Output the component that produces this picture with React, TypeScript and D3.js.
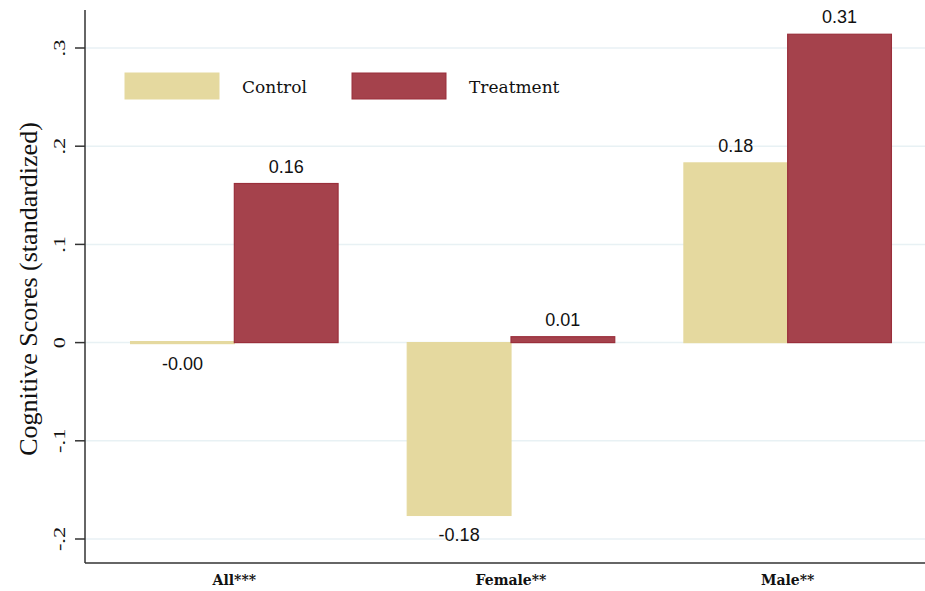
import React from "react";
import * as d3 from "d3";

const groups = ["All***", "Female**", "Male**"];
const seriesNames = ["Control", "Treatment"];
const controlValues = [-0.001, -0.176, 0.183];
const treatmentValues = [0.162, 0.006, 0.314];
const yTicks = [-0.2, -0.1, 0, 0.1, 0.2, 0.3];
const yTickLabels = ["-.2", "-.1", "0", ".1", ".2", ".3"];

const W = 925;
const H = 591;
const left = 85;
const right = 925;
const top = 10;
const bottom = 563;

const colors = { Control: "#E5D99F", Treatment: "#A5424C" };
const strokes = { Control: "#E5D99F", Treatment: "#9A2F3B" };

// keeps the sign of values that round to zero, e.g. -0.00
const fmt = (v: number) => (v < 0 ? "-" : "") + Math.abs(v).toFixed(2);

export default function App() {
  const y = d3.scaleLinear().domain([-0.2, 0.3]).range([539, 48]);
  const x0 = d3
    .scaleBand()
    .domain(groups)
    .range([96, 926])
    .paddingInner(0.25)
    .paddingOuter(0.125);
  const x1 = d3.scaleBand().domain(seriesNames).range([0, x0.bandwidth()]);
  const serif = "'Liberation Serif', 'DejaVu Serif', serif";
  const century = "'DejaVu Serif', serif";
  const sans = "'Liberation Sans', Arial, sans-serif";

  const series = [
    { name: "Control", values: controlValues },
    { name: "Treatment", values: treatmentValues },
  ];

  return (
    <svg width={W} height={H} style={{ position: "absolute", left: 0, top: 0, background: "#fff" }}>
      {/* grid */}
      {yTicks.map((t) => (
        <line key={t} x1={left} x2={right} y1={y(t)} y2={y(t)} stroke="#E8F1F4" strokeWidth={1.5} />
      ))}
      {/* bars */}
      {series.map((s) =>
        s.values.map((v, i) => {
          const g = groups[i];
          const bx = (x0(g) as number) + (x1(s.name) as number);
          const y0 = y(0);
          const yv = y(v);
          const h = Math.max(Math.abs(yv - y0), 2);
          const by = v >= 0 ? y0 - h : y0 - (Math.abs(yv - y0) < 2 ? 1 : 0);
          return (
            <rect
              key={s.name + g}
              x={bx}
              y={by}
              width={x1.bandwidth()}
              height={h}
              fill={colors[s.name as "Control"]}
              stroke={strokes[s.name as "Control"]}
              strokeWidth={1.2}
            />
          );
        })
      )}
      {/* value labels */}
      {series.map((s) =>
        s.values.map((v, i) => {
          const g = groups[i];
          const cx = (x0(g) as number) + (x1(s.name) as number) + x1.bandwidth() / 2;
          const ty = v >= 0 ? y(v) - 11 : Math.max(y(v), y(0)) + 26;
          return (
            <text key={"l" + s.name + g} x={cx} y={ty} textAnchor="middle" fontFamily={sans} fontSize={18} fill="#111">
              {fmt(v)}
            </text>
          );
        })
      )}
      {/* axes */}
      <line x1={left} x2={left} y1={top} y2={bottom} stroke="#333" strokeWidth={1.5} />
      <line x1={left} x2={right} y1={bottom} y2={bottom} stroke="#333" strokeWidth={1.5} />
      {yTicks.map((t, i) => (
        <g key={"t" + t}>
          <line x1={75} x2={left} y1={y(t)} y2={y(t)} stroke="#333" strokeWidth={1.5} />
          <text
            transform={`translate(65, ${y(t)}) rotate(-90) scale(1.4, 1)`}
            textAnchor="middle"
            fontFamily={serif}
            fontSize={16}
            fill="#111"
          >
            {yTickLabels[i]}
          </text>
        </g>
      ))}
      <text
        transform={`translate(37, ${289}) rotate(-90)`}
        textAnchor="middle"
        fontFamily={serif}
        fontSize={26}
        fill="#111"
      >
        Cognitive Scores (standardized)
      </text>
      {/* category labels */}
      {groups.map((g) => (
        <text
          key={"c" + g}
          x={(x0(g) as number) + x0.bandwidth() / 2}
          y={585}
          textAnchor="middle"
          fontFamily={century}
          fontWeight="bold"
          fontSize={14}
          fill="#111"
        >
          {g}
        </text>
      ))}
      {/* legend */}
      {seriesNames.map((n, i) => {
        const lx = 125 + i * 227;
        return (
          <g key={"lg" + n}>
            <rect x={lx} y={73} width={94} height={26} fill={colors[n as "Control"]} stroke={strokes[n as "Control"]} strokeWidth={1} />
            <text x={lx + 117} y={93} fontFamily={century} fontSize={17} fill="#111">
              {n}
            </text>
          </g>
        );
      })}
    </svg>
  );
}
